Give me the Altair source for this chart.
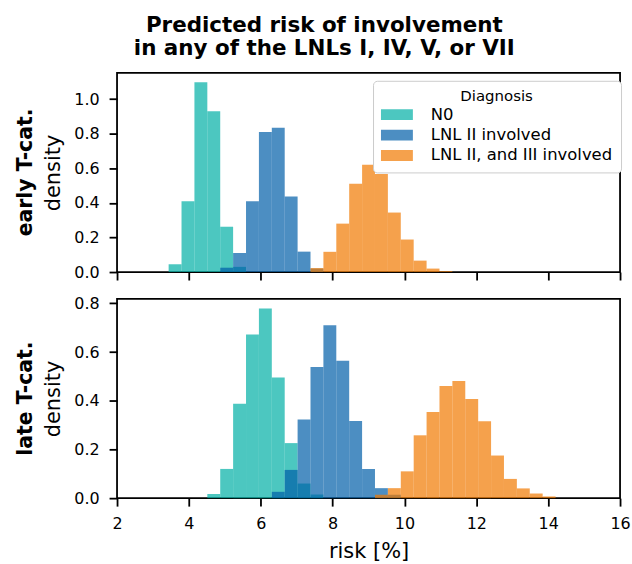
import altair as alt
import numpy as np
import pandas as pd

# Histogram grid shared by all series (bin edges)
BIN_EDGES = np.linspace(2, 16, 40)

DIAGNOSES = ["N0", "LNL II involved", "LNL II, and III involved"]
COLORS = ["#00afa5", "#005ea8", "#f17900"]

# early T-category: first bin index and densities per diagnosis
EARLY_N0_START = 4
EARLY_N0 = [0.045, 0.41, 1.097, 0.93, 0.262, 0.03]
EARLY_II_START = 8
EARLY_II = [0.025, 0.11, 0.41, 0.81, 0.835, 0.437, 0.118, 0.02]
EARLY_II_III_START = 15
EARLY_II_III = [0.023, 0.117, 0.28, 0.51, 0.62, 0.567, 0.344, 0.188, 0.066, 0.02, 0.005]

# late T-category
LATE_N0_START = 7
LATE_N0 = [0.017, 0.12, 0.388, 0.672, 0.779, 0.495, 0.226, 0.06, 0.015]
LATE_II_START = 12
LATE_II = [0.026, 0.116, 0.323, 0.538, 0.71, 0.564, 0.317, 0.12, 0.041, 0.014]
LATE_II_III_START = 20
LATE_II_III = [0.014, 0.041, 0.11, 0.258, 0.354, 0.46, 0.481, 0.407, 0.316, 0.175,
               0.079, 0.04, 0.019, 0.007]

X_TICKS = [2, 4, 6, 8, 10, 12, 14, 16]
EARLY_Y_TICKS = [0.0, 0.2, 0.4, 0.6, 0.8, 1.0]
LATE_Y_TICKS = [0.0, 0.2, 0.4, 0.6, 0.8]


def hist_frame(series):
    rows = []
    order = 0
    for diag, start, dens in series:
        for i, d in enumerate(dens):
            k = start + i
            rows.append({"diagnosis": diag, "x0": float(BIN_EDGES[k]),
                         "x1": float(BIN_EDGES[k + 1]), "density": d, "order": order})
            order += 1
    return pd.DataFrame(rows)


early_df = hist_frame([
    ("N0", EARLY_N0_START, EARLY_N0),
    ("LNL II involved", EARLY_II_START, EARLY_II),
    ("LNL II, and III involved", EARLY_II_III_START, EARLY_II_III),
])
late_df = hist_frame([
    ("N0", LATE_N0_START, LATE_N0),
    ("LNL II involved", LATE_II_START, LATE_II),
    ("LNL II, and III involved", LATE_II_III_START, LATE_II_III),
])

W, H = 505, 200
FONT = "DejaVu Sans"
TICK_FS = 16
TITLE_FS = 21


def panel(df, label, ymax, yticks, show_x_labels, legend):
    x_axis = alt.Axis(values=X_TICKS, labels=show_x_labels, grid=False, labelFlush=False,
                      title="risk [%]" if show_x_labels else None,
                      labelFontSize=TICK_FS, labelPadding=9, titleFontSize=TITLE_FS,
                      titleFontWeight="normal", titlePadding=10)
    y_axis = alt.Axis(values=yticks, format=".1f", grid=False, title="density",
                      labelFontSize=TICK_FS, labelPadding=10, titleFontSize=TITLE_FS,
                      titleFontWeight="normal", titlePadding=10)
    color = alt.Color("diagnosis:N",
                      scale=alt.Scale(domain=DIAGNOSES, range=COLORS),
                      legend=legend)
    bars = alt.Chart(df).mark_rect(opacity=0.7).encode(
        x=alt.X("x0:Q", scale=alt.Scale(domain=[2, 16], nice=False, zero=False), axis=x_axis),
        x2="x1:Q",
        y=alt.Y("density:Q", scale=alt.Scale(domain=[0, ymax], nice=False), axis=y_axis,
                stack=None),
        y2=alt.datum(0),
        color=color,
        order=alt.Order("order:Q"),
    )
    text = alt.Chart(pd.DataFrame({"label": [label]})).mark_text(
        angle=270, fontSize=20.5, fontWeight="bold", font=FONT,
        align="center", baseline="middle"
    ).encode(text="label:N", x=alt.value(-91), y=alt.value(H / 2))
    return alt.layer(bars, text).properties(width=W, height=H)


legend = alt.Legend(
    title="Diagnosis", orient="none", legendX=257, legendY=8,
    fillColor="white", strokeColor="#cccccc", cornerRadius=4, padding=8,
    titleAnchor="middle", titleFontSize=15, titleFontWeight="normal", titlePadding=2,
    labelFontSize=16.5, labelOffset=25, labelLimit=0,
    symbolType="M-1.78,-0.6H1.78V0.6H-1.78Z", symbolSize=324,
    symbolOpacity=0.7, symbolStrokeWidth=0, symbolOffset=7, rowPadding=2.5,
)

top = panel(early_df, "early T-cat.", 1.152, EARLY_Y_TICKS, False, legend)
bottom = panel(late_df, "late T-cat.", 0.818, LATE_Y_TICKS, True, None)

chart = alt.vconcat(top, bottom, spacing=12).resolve_scale(
    color="independent"
).resolve_legend(color="independent").properties(
    title=alt.TitleParams(
        ["Predicted risk of involvement", "in any of the LNLs I, IV, V, or VII"],
        fontSize=21.5, fontWeight="bold", anchor="middle", frame="bounds",
        lineHeight=24, offset=12, color="black", font=FONT, dx=1,
    ),
    padding={"left": 15.5, "top": 13, "right": 0, "bottom": 0},
).configure(font=FONT).configure_view(
    stroke="black", strokeWidth=1.8
).configure_axis(
    domain=False, tickColor="black", tickWidth=1.8, tickSize=8,
    labelColor="black", titleColor="black", labelFont=FONT, titleFont=FONT,
).configure_legend(labelColor="black", titleColor="black", labelFont=FONT, titleFont=FONT)

chart.save("out.html", embed_options={"renderer": "svg", "actions": False})
